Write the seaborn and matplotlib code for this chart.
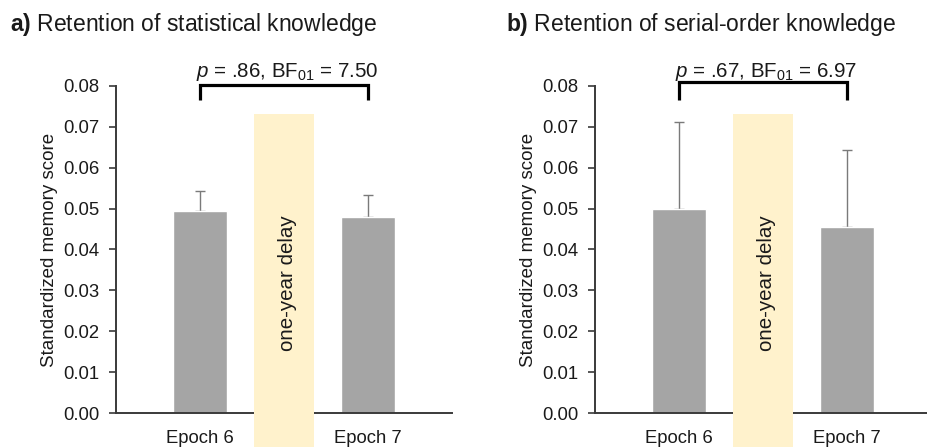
import matplotlib
matplotlib.use("Agg")
import matplotlib.pyplot as plt
from matplotlib.patches import Rectangle
import seaborn as sns
import pandas as pd

# Data
epochs = ["Epoch 6", "Epoch 7"]
stat_means = [0.0494, 0.0479]
stat_err = [0.0048, 0.0055]
serial_means = [0.0498, 0.0456]
serial_err = [0.0214, 0.0187]
panel_titles = ["Retention of statistical knowledge", "Retention of serial-order knowledge"]
panel_letters = ["a)", "b)"]
stats_text = [r"$\it{p}$ = .86, BF$_{01}$ = 7.50", r"$\it{p}$ = .67, BF$_{01}$ = 6.97"]
yticks = [0.00, 0.01, 0.02, 0.03, 0.04, 0.05, 0.06, 0.07, 0.08]

sns.set_style("white")
plt.rcParams["font.family"] = ["Liberation Sans", "DejaVu Sans"]
plt.rcParams["mathtext.fontset"] = "custom"
plt.rcParams["mathtext.rm"] = "Liberation Sans"
plt.rcParams["mathtext.it"] = "Liberation Sans:italic"
plt.rcParams["mathtext.bf"] = "Liberation Sans:bold"

BAR = "#a5a5a5"
ERR = "#7a7a7a"
BAND = "#fff2cc"
SPINE = "#3a3a3a"
TXT = "#1a1a1a"

fig = plt.figure(figsize=(9.28, 4.47), dpi=100)
ax_pos = [
    [116 / 928, 1 - 413 / 447, 336 / 928, 327 / 447],
    [595 / 928, 1 - 413 / 447, 336 / 928, 327 / 447],
]
title_x = [10 / 928, 506 / 928]

panels = [(stat_means, stat_err), (serial_means, serial_err)]
for i, (means, errs) in enumerate(panels):
    ax = fig.add_axes(ax_pos[i])
    df = pd.DataFrame({"epoch": epochs, "score": means})
    sns.barplot(data=df, x="epoch", y="score", color=BAR, saturation=1,
                width=0.32, errorbar=None, ax=ax, zorder=2)
    # one-sided (upper) error bars
    ax.errorbar(range(len(epochs)), means, yerr=[[0] * len(errs), errs],
                fmt="none", ecolor=ERR, elinewidth=1.0, capsize=3.3,
                capthick=1.0, zorder=1)

    ax.set_xlim(-0.5, 1.5)
    ax.set_ylim(0, 0.08)
    ax.set_yticks(yticks)
    ax.set_yticklabels([f"{t:.2f}" for t in yticks])
    ax.set_xlabel("")
    ax.set_ylabel("Standardized memory score", fontsize=13.5, color=TXT, labelpad=4)

    for s in ["top", "right"]:
        ax.spines[s].set_visible(False)
    for s in ["left", "bottom"]:
        ax.spines[s].set_color(SPINE)
        ax.spines[s].set_linewidth(1.4)

    ax.tick_params(axis="y", which="both", left=True, length=5, width=1.2,
                   color=SPINE, pad=7, labelsize=13.3, labelcolor=TXT)
    ax.tick_params(axis="x", which="both", bottom=False, length=0, pad=12,
                   labelsize=13.3, labelcolor=TXT)

    # delay band between the two epochs, covering the baseline
    band = Rectangle((0.5 - 0.18, -0.0083), 0.36, 0.0731 + 0.0083,
                     transform=ax.transData, facecolor=BAND, edgecolor="none",
                     clip_on=False, zorder=3)
    ax.add_patch(band)
    ax.text(0.52, 0.0318, "one-year delay", rotation=90, ha="center", va="center",
            fontsize=14.8, color=TXT, zorder=4)

    # comparison bracket
    top = 0.0802 if i == 0 else 0.0809
    ax.plot([0, 0, 1, 1], [0.0765, top, top, 0.0765], color="black", lw=2.3,
            clip_on=False, solid_capstyle="butt", solid_joinstyle="miter", zorder=5)
    ax.text(0.52, 0.0823, stats_text[i], ha="center", va="baseline",
            fontsize=14.8, color=TXT, clip_on=False)

    fig.text(title_x[i], 1 - 24 / 447, rf"$\bf{{{panel_letters[i]}}}$ {panel_titles[i]}",
             ha="left", va="center", fontsize=16.5, color=TXT)

fig.savefig("out.png", dpi=100, facecolor="white")
